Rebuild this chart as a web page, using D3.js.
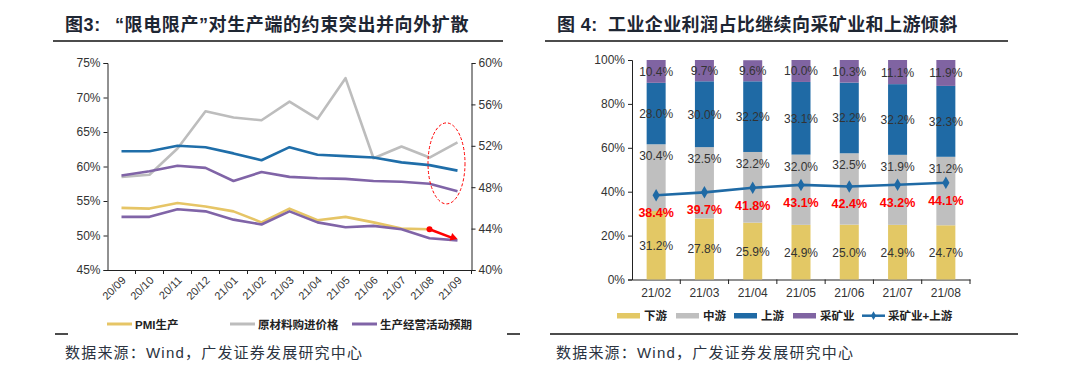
<!DOCTYPE html>
<html lang="zh-CN">
<head>
<meta charset="utf-8">
<title>图3 图4</title>
<script src="https://d3js.org/d3.v7.min.js"></script>
<style>
  body { margin: 0; background: #fff; }
  text { font-family: "Liberation Sans", "Noto Sans CJK SC", sans-serif; }
</style>
</head>
<body>
<script>
// ---- 图3 数据 ----
var months3 = ["20/09","20/10","20/11","20/12","21/01","21/02","21/03","21/04","21/05","21/06","21/07","21/08","21/09"];
var pmiProd = [54.0,53.9,54.7,54.2,53.5,51.9,53.9,52.2,52.7,51.9,51.0,50.9,null];
var pmiProdTail = [50.9,49.5]; // 21/08 -> 21/09 红色箭头
var rawPrice = [58.5,58.8,62.6,68.0,67.1,66.7,69.4,66.9,72.8,61.2,62.9,61.3,63.5];
var expect = [58.7,59.3,60.1,59.8,57.9,59.2,58.5,58.3,58.2,57.9,57.8,57.5,56.4];
var blueLine = [62.2,62.2,63.0,62.8,61.9,60.9,62.8,61.7,61.5,61.3,60.6,60.2,59.4];
var purpleLow = [52.7,52.7,53.8,53.5,52.3,51.6,53.5,51.9,51.2,51.4,50.9,49.6,49.3];
var leftTicks3 = [45,50,55,60,65,70,75];
var rightTicks3 = [40,44,48,52,56,60];

// ---- 图4 数据 ----
var months4 = ["21/02","21/03","21/04","21/05","21/06","21/07","21/08"];
var down = [31.2,27.8,25.9,24.9,25.0,24.9,24.7];
var mid = [30.4,32.5,32.2,32.0,32.5,31.9,31.2];
var up = [28.0,30.0,32.2,33.1,32.2,32.2,32.3];
var mining = [10.4,9.7,9.6,10.0,10.3,11.1,11.9];
var miningUp = [38.4,39.7,41.8,43.1,42.4,43.2,44.1];
var ticks4 = [0,20,40,60,80,100];

var svg = d3.select("body").append("svg").attr("width",1080).attr("height",369);
var txt = "#333";
var cjk = "'Noto Sans CJK SC', sans-serif";

// ---------- 标题与分隔线 ----------
var t3 = svg.append("text").attr("x",65).attr("y",31).attr("font-size",18).attr("font-weight","bold")
  .attr("font-family",cjk).attr("fill","#1e2633").attr("letter-spacing",0.6);
t3.append("tspan").text("图3:");
t3.append("tspan").attr("x",115).text("“限电限产”对生产端的约束突出并向外扩散");
svg.append("line").attr("x1",53).attr("x2",503).attr("y1",41).attr("y2",41).attr("stroke","#111").attr("stroke-width",1.5);
var t4 = svg.append("text").attr("x",557).attr("y",31).attr("font-size",18).attr("font-weight","bold")
  .attr("font-family",cjk).attr("fill","#1e2633").attr("letter-spacing",0.4);
t4.append("tspan").text("图 4:");
t4.append("tspan").attr("x",608).text("工业企业利润占比继续向采矿业和上游倾斜");
svg.append("line").attr("x1",545).attr("x2",1008).attr("y1",41).attr("y2",41).attr("stroke","#111").attr("stroke-width",1.5);

// 底部线
svg.append("line").attr("x1",55).attr("x2",68).attr("y1",334).attr("y2",334).attr("stroke","#111").attr("stroke-width",1.5);
svg.append("line").attr("x1",507).attr("x2",520).attr("y1",334).attr("y2",334).attr("stroke","#111").attr("stroke-width",1.5);
svg.append("line").attr("x1",550).attr("x2",1018).attr("y1",334).attr("y2",334).attr("stroke","#111").attr("stroke-width",1.5);

svg.append("text").attr("x",65).attr("y",358).attr("font-size",15).attr("letter-spacing",1.2)
  .attr("fill","#2b3340").text("数据来源：Wind，广发证券发展研究中心");
svg.append("text").attr("x",556).attr("y",358).attr("font-size",15).attr("letter-spacing",1.2)
  .attr("fill","#2b3340").text("数据来源：Wind，广发证券发展研究中心");

// ---------- 图3 ----------
var x3 = d3.scaleBand().domain(months3).range([107.5,471.5]);
var yL = d3.scaleLinear().domain([45,75]).range([270,63]);
var yR = d3.scaleLinear().domain([40,60]).range([270,63]);
var g3 = svg.append("g");

var axL = g3.append("g").attr("transform","translate(107.5,0)")
  .call(d3.axisLeft(yL).tickValues(leftTicks3).tickSize(4).tickFormat(function(d){return d+"%";}));
var axR = g3.append("g").attr("transform","translate(471.5,0)")
  .call(d3.axisRight(yR).tickValues(rightTicks3).tickSize(4).tickFormat(function(d){return d+"%";}));
var axX = g3.append("g").attr("transform","translate(0,270)")
  .call(d3.axisBottom(x3).tickSize(0).tickFormat(""));
[axL,axR,axX].forEach(function(a){
  a.selectAll("path,line").attr("stroke","#222");
  a.selectAll("text").attr("font-size",12).attr("fill",txt);
});
// 类别间刻度
g3.selectAll(".bt").data(months3).enter().append("line")
  .attr("x1",function(d){return x3(d) + x3.bandwidth();})
  .attr("x2",function(d){return x3(d) + x3.bandwidth();})
  .attr("y1",270).attr("y2",274).attr("stroke","#222");
g3.selectAll(".xl").data(months3).enter().append("text")
  .attr("font-size",11).attr("fill",txt).attr("text-anchor","end")
  .attr("transform",function(d){return "translate("+(x3(d)+x3.bandwidth()/2+5)+",281) rotate(-45)";})
  .text(function(d){return d;});

var cx = function(d,i){return x3(months3[i]) + x3.bandwidth()/2;};
function drawLine(data, color){
  var ln = d3.line().defined(function(d){return d!==null;}).x(cx).y(function(d){return yL(d);});
  g3.append("path").datum(data).attr("d",ln).attr("fill","none").attr("stroke",color)
    .attr("stroke-width",2.6).attr("stroke-linejoin","round");
}
drawLine(rawPrice,"#bdbdbd");
drawLine(blueLine,"#1f6ea9");
drawLine(expect,"#8064a7");
drawLine(pmiProd,"#e6c566");
drawLine(purpleLow,"#8064a7");

// 红色箭头
var xa = x3("21/08")+x3.bandwidth()/2, xb = x3("21/09")+x3.bandwidth()/2;
var ya = yL(pmiProdTail[0]), yb = yL(pmiProdTail[1]);
g3.append("line").attr("x1",xa).attr("y1",ya).attr("x2",xb-4).attr("y2",yb-0.6).attr("stroke","#ff0000").attr("stroke-width",2.6);
g3.append("circle").attr("cx",xa).attr("cy",ya).attr("r",3).attr("fill","#ff0000");
var ang = Math.atan2(yb-ya, xb-xa);
g3.append("path").attr("d","M0,0 L-7,-4 L-7,4 Z").attr("fill","#ff0000")
  .attr("transform","translate("+xb+","+yb+") rotate("+(ang*180/Math.PI)+")");

// 红色虚线椭圆
g3.append("ellipse").attr("cx",(xa+xb)/2+3).attr("cy",yR(50.3)).attr("rx",18.5).attr("ry",40.5)
  .attr("fill","none").attr("stroke","#ff0000").attr("stroke-width",1).attr("stroke-dasharray","3,2");

// 图例3
var leg3 = [{t:"PMI生产",c:"#e6c566",x:107},{t:"原材料购进价格",c:"#bdbdbd",x:230},{t:"生产经营活动预期",c:"#8064a7",x:352}];
var lg3 = g3.selectAll(".lg3").data(leg3).enter().append("g");
lg3.append("line").attr("x1",function(d){return d.x;}).attr("x2",function(d){return d.x+25;})
  .attr("y1",324).attr("y2",324).attr("stroke",function(d){return d.c;}).attr("stroke-width",3);
lg3.append("text").attr("x",function(d){return d.x+28;}).attr("y",328.5).attr("font-size",11.5)
  .attr("font-weight","bold").attr("fill","#222").text(function(d){return d.t;});

// ---------- 图4 ----------
var xb4 = d3.scaleBand().domain(months4).range([632,970]);
var y4 = d3.scaleLinear().domain([0,100]).range([279.5,60]);
var g4 = svg.append("g");

var ax4 = g4.append("g").attr("transform","translate(632,0)")
  .call(d3.axisLeft(y4).tickValues(ticks4).tickSize(4).tickFormat(function(d){return d+"%";}));
var ax4x = g4.append("g").attr("transform","translate(0,279.5)")
  .call(d3.axisBottom(xb4).tickSize(0).tickPadding(9));
[ax4,ax4x].forEach(function(a){
  a.selectAll("path,line").attr("stroke","#222");
  a.selectAll("text").attr("font-size",12).attr("fill",txt);
});
g4.selectAll(".bt4").data(months4).enter().append("line")
  .attr("x1",function(d){return xb4(d)+xb4.bandwidth();}).attr("x2",function(d){return xb4(d)+xb4.bandwidth();})
  .attr("y1",279.5).attr("y2",284).attr("stroke","#222");

var keys = ["down","mid","up","mining"];
var colors = {down:"#e3c865", mid:"#bfbfbf", up:"#1f6aa5", mining:"#8064a2"};
var rows = months4.map(function(m,i){return {m:m, down:down[i], mid:mid[i], up:up[i], mining:mining[i]};});
var stack = d3.stack().keys(keys)(rows);
var bw = 19;
stack.forEach(function(s){
  g4.selectAll(".b"+s.key).data(s).enter().append("rect")
    .attr("x",function(d){return xb4(d.data.m)+xb4.bandwidth()/2-bw/2;})
    .attr("width",bw)
    .attr("y",function(d){return y4(Math.min(d[1],100));})
    .attr("height",function(d){return y4(d[0])-y4(Math.min(d[1],100));})
    .attr("fill",colors[s.key]);
  g4.selectAll(".l"+s.key).data(s).enter().append("text")
    .attr("x",function(d){return xb4(d.data.m)+xb4.bandwidth()/2;})
    .attr("y",function(d){
      if (s.key==="mid") return y4(d[1])+16;
      return (y4(d[0])+y4(Math.min(d[1],100)))/2+4.5;})
    .attr("text-anchor","middle").attr("font-size",12).attr("fill","#333")
    .text(function(d){return d.data[s.key].toFixed(1)+"%";});
});

var cx4 = function(d,i){return xb4(months4[i])+xb4.bandwidth()/2;};
g4.append("path").datum(miningUp)
  .attr("d",d3.line().x(cx4).y(function(d){return y4(d);}))
  .attr("fill","none").attr("stroke","#1f6aa5").attr("stroke-width",2.6);
g4.selectAll(".mk").data(miningUp).enter().append("path")
  .attr("d",d3.symbol().type(d3.symbolDiamond).size(45))
  .attr("transform",function(d,i){return "translate("+cx4(d,i)+","+y4(d)+")";})
  .attr("fill","#1f6aa5");
g4.selectAll(".rl").data(miningUp).enter().append("text")
  .attr("x",cx4).attr("y",function(d){return y4(d)+22;})
  .attr("text-anchor","middle").attr("font-size",12.5).attr("font-weight","bold").attr("fill","#ff0000")
  .text(function(d){return d.toFixed(1)+"%";});

// 图例4
var leg4 = [{t:"下游",k:"down",x:617},{t:"中游",k:"mid",x:676},{t:"上游",k:"up",x:734},{t:"采矿业",k:"mining",x:793}];
var lg4 = g4.selectAll(".lg4").data(leg4).enter().append("g");
lg4.append("rect").attr("x",function(d){return d.x;}).attr("y",313).attr("width",23).attr("height",5.5)
  .attr("fill",function(d){return colors[d.k];});
lg4.append("text").attr("x",function(d){return d.x+27;}).attr("y",320).attr("font-size",11.5)
  .attr("font-weight","bold").attr("fill","#222").text(function(d){return d.t;});
g4.append("line").attr("x1",862).attr("x2",885).attr("y1",315.7).attr("y2",315.7).attr("stroke","#1f6aa5").attr("stroke-width",2.5);
g4.append("path").attr("d",d3.symbol().type(d3.symbolDiamond).size(22)).attr("transform","translate(873.5,315.7)").attr("fill","#1f6aa5");
g4.append("text").attr("x",888).attr("y",320).attr("font-size",11.5).attr("font-weight","bold").attr("fill","#222").text("采矿业+上游");
</script>
</body>
</html>
